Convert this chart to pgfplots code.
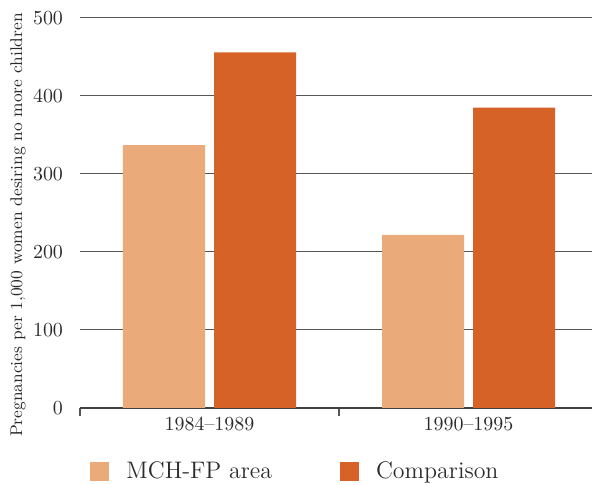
\documentclass[border=0pt]{standalone}
\usepackage{pgfplots}
\pgfplotsset{compat=1.18}
\usetikzlibrary{calc}
\definecolor{mchColor}{HTML}{EAAA7A}
\definecolor{cmpColor}{HTML}{D66227}
\definecolor{gridColor}{HTML}{555555}
\definecolor{txtColor}{HTML}{2B2B2B}

\begin{document}
\begin{tikzpicture}
    \begin{axis}[
        name=ax,
        scale only axis,
        width=256bp,
        height=195bp,
        xmin=-0.5, xmax=1.4768,
        ymin=0, ymax=500,
        axis line style={draw=none},
        % tick marks between the groups, labels at the group centres
        xtick={-0.5,0.5},
        xticklabels={},
        xtick pos=bottom,
        tick align=outside,
        major tick length=4bp,
        x tick style={gridColor, line width=0.6bp},
        extra x ticks={0,1},
        extra x tick labels={1984--1989,1990--1995},
        extra x tick style={major tick length=0pt},
        ytick={100,200,300,400,500},
        ytick pos=left,
        y tick style={draw=none},
        ymajorgrids,
        major grid style={gridColor, line width=0.5bp},
        extra y ticks={0},
        extra y tick style={grid=major, major grid style={black!75, line width=0.8bp}},
        tick label style={text=txtColor, font=\normalsize},
        xticklabel style={yshift=-1bp},
        yticklabel style={xshift=-1bp},
        ylabel={Pregnancies per 1,000 women desiring no more children},
        ylabel style={at={(axis description cs:-0.121,0.469)}, anchor=center,
            font=\fontsize{8.5}{10}\selectfont, text=txtColor},
        legend columns=2,
        legend style={at={(axis description cs:0.008,-0.163)}, anchor=west, draw=none, fill=none,
            font=\large, text=txtColor,
            /tikz/every even column/.append style={column sep=32bp}},
        legend image code/.code={\fill[#1] (0bp,-4.75bp) rectangle (9.5bp,4.75bp); \path (16bp,0);},
    ]
        \addplot[ybar, bar width=41bp, bar shift=-22.75bp, fill=mchColor, draw=none]
            coordinates {(0,337) (1,222)};
        \addplot[ybar, bar width=41bp, bar shift=22.75bp, fill=cmpColor, draw=none]
            coordinates {(0,456) (1,385)};
        \legend{MCH-FP area, Comparison}
    \end{axis}
    \pgfresetboundingbox
    \useasboundingbox ($(ax.south west)+(-40bp,-38.5bp)$) rectangle ($(ax.north east)+(0,9bp)$);
\end{tikzpicture}
\end{document}
